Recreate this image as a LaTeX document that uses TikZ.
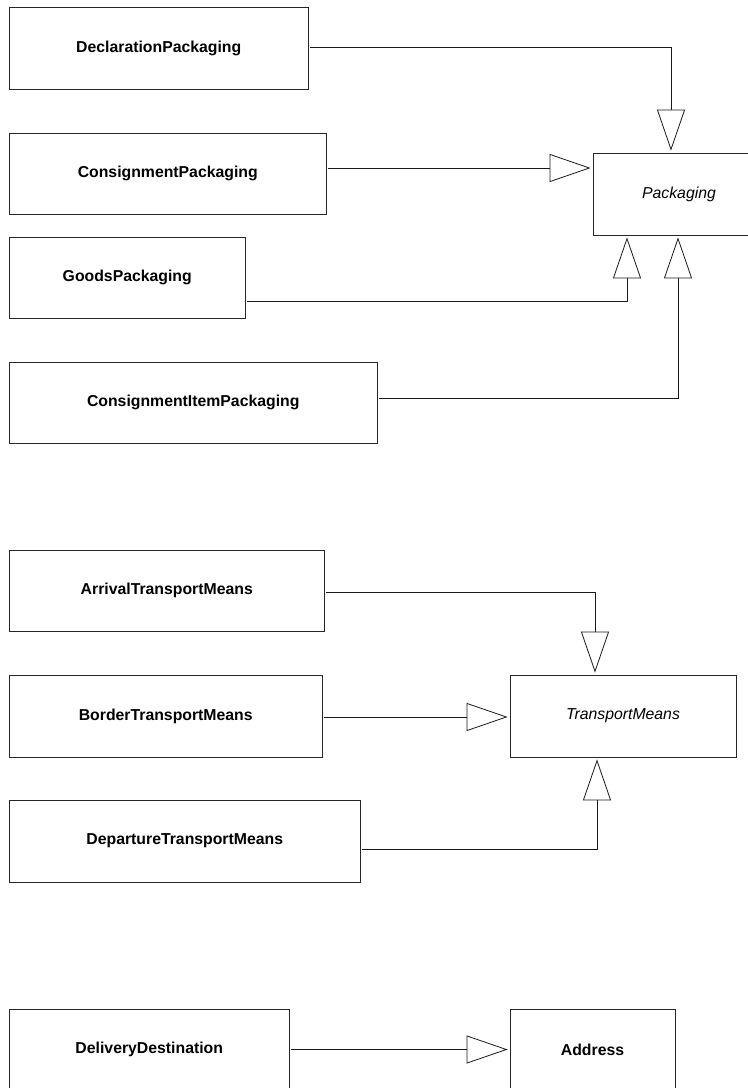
\documentclass[tikz,border=0pt]{standalone}
\usepackage{fontspec}
\setmainfont{Liberation Sans}
\usetikzlibrary{arrows.meta}
\begin{document}
\begin{tikzpicture}[x=1bp,y=-1bp,
  box/.style={draw=black!85,line width=0.8bp,rectangle,inner sep=0pt,
    font=\fontsize{15.8bp}{19bp}\selectfont\bfseries},
  abox/.style={box,font=\fontsize{15.8bp}{19bp}\selectfont\itshape},
  gen/.style={draw=black!90,line width=0.8bp,
    -{Triangle[open,length=41bp,width=28bp]},shorten <=2bp,shorten >=2bp}]
\clip (0,0) rectangle (748,1088);
\useasboundingbox (0,0) rectangle (748,1088);
\node[box,minimum width=298.5bp,minimum height=81.5bp] (dp) at (158.75,48.25) {DeclarationPackaging};
\node[box,minimum width=316.5bp,minimum height=81bp] (cp) at (167.75,173.5) {ConsignmentPackaging};
\node[box,minimum width=235.5bp,minimum height=81bp] (gp) at (127.25,277.5) {GoodsPackaging};
\node[box,minimum width=367.5bp,minimum height=80.5bp] (cip) at (193.25,402.75) {ConsignmentItemPackaging};
\node[abox,minimum width=172bp,minimum height=82bp] (pk) at (679,194) {Packaging};
\node[box,minimum width=314.5bp,minimum height=81bp] (atm) at (166.75,590.5) {ArrivalTransportMeans};
\node[box,minimum width=312.5bp,minimum height=82bp] (btm) at (165.75,716) {BorderTransportMeans};
\node[box,minimum width=350.5bp,minimum height=82bp] (dtm) at (184.75,841) {DepartureTransportMeans};
\node[abox,minimum width=226bp,minimum height=82bp] (tm) at (623,716) {TransportMeans};
\node[box,minimum width=279.5bp,minimum height=81bp] (dd) at (149.25,1049.5) {DeliveryDestination};
\node[box,minimum width=165bp,minimum height=81bp] (ad) at (592.5,1049.5) {Address};
% Packaging generalizations
\draw[gen] ([yshift=1bp]dp.east) -| ([xshift=-8bp]pk.north);
\draw[gen] ([yshift=5.5bp]cp.east) coordinate (c1) -- (c1 -| pk.west);
\draw[gen] ([yshift=-23.5bp]gp.east) -| ([xshift=-52bp]pk.south);
\draw[gen] ([yshift=4.75bp]cip.east) -| ([xshift=-1bp]pk.south);
% TransportMeans generalizations
\draw[gen] ([yshift=-1.5bp]atm.east) -| ([xshift=-28bp]tm.north);
\draw[gen] ([yshift=-1bp]btm.east) coordinate (c2) -- (c2 -| tm.west);
\draw[gen] ([yshift=-8bp]dtm.east) -| ([xshift=-26bp]tm.south);
% Address
\draw[gen] (dd.east) -- (ad.west);
\end{tikzpicture}
\end{document}
